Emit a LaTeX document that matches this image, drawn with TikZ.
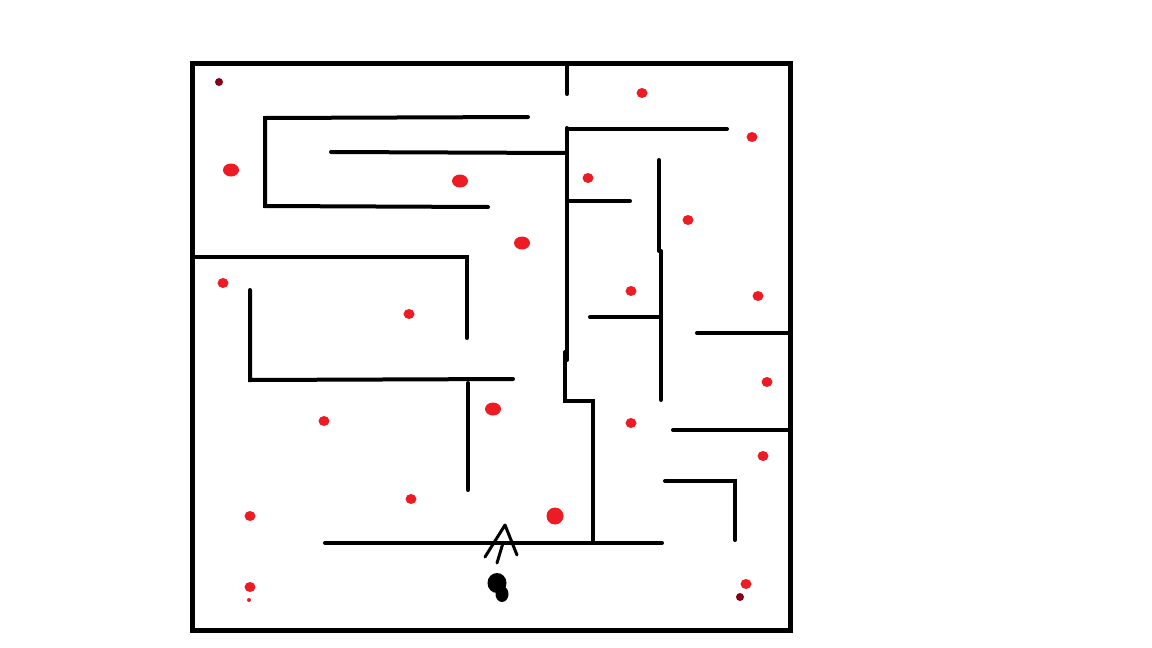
\documentclass[tikz,border=0pt]{standalone}
\usepackage{tikz}
\definecolor{paintred}{RGB}{237,28,36}
\definecolor{darkberry}{RGB}{136,0,21}
\tikzset{wall/.style={line width=4pt,line cap=round},
  berry/.style={fill=paintred,draw=none},
  darkdot/.style={fill=darkberry,draw=none}}

\begin{document}
\begin{tikzpicture}[x=1pt,y=-1pt]
\useasboundingbox (0,0) rectangle (1152,648);
\draw[line width=5pt] (192.5,63) rectangle (790,630.5);
% walls top left
\draw[wall] (567,63) -- (567,94);
\draw[wall] (528,117) -- (265,118) -- (265,206) -- (488,207);
\draw[wall] (331,152) -- (566,153);
% long middle wall
\draw[wall] (567,128) -- (567,360);
\draw[wall] (565,352) -- (565,401) -- (593,401) -- (593,543);
\draw[wall] (567,129) -- (727,129);
\draw[wall] (567,201) -- (630,201);
\draw[wall] (659,160) -- (659,251);
\draw[wall] (661,251) -- (661,400);
\draw[wall] (590,317) -- (661,317);
% right side
\draw[wall] (697,333) -- (790,333);
\draw[wall] (673,430) -- (790,430);
\draw[wall] (665,481) -- (735,481) -- (735,540);
\draw[wall] (325,543) -- (662,543);
% left side
\draw[wall] (192,257) -- (467,257) -- (467,338);
\draw[wall] (250,290) -- (250,380) -- (513,379);
\draw[wall] (468,383) -- (468,490);
% start arrow and player
\draw[line width=3pt,line join=round,line cap=round] (485,557) -- (505,525) -- (517,555);
\draw[line width=3pt,line cap=round] (497,563) -- (503,543);
\fill (497,583) ellipse (9.5pt and 10pt);
\fill (502,594) ellipse (6.5pt and 8pt);
% berries
\foreach \x/\y in {642/93,752/137,588/178,688/220,223/283,631/291,758/296,409/314,767/382,324/421,631/423,763/456,411/499,250/516,250/587,746/584}
  \fill[berry] (\x,\y) ellipse (5.5pt and 5pt);
\foreach \x/\y in {231/170,460/181,522/243,493/409}
  \fill[berry] (\x,\y) ellipse (8pt and 6.5pt);
\fill[berry] (555,516) circle (8.5pt);
\fill[berry] (249,600) circle (2pt);
\fill[darkdot] (219,82) circle (4pt);
\fill[darkdot] (740,597) circle (4pt);
\end{tikzpicture}
\end{document}
